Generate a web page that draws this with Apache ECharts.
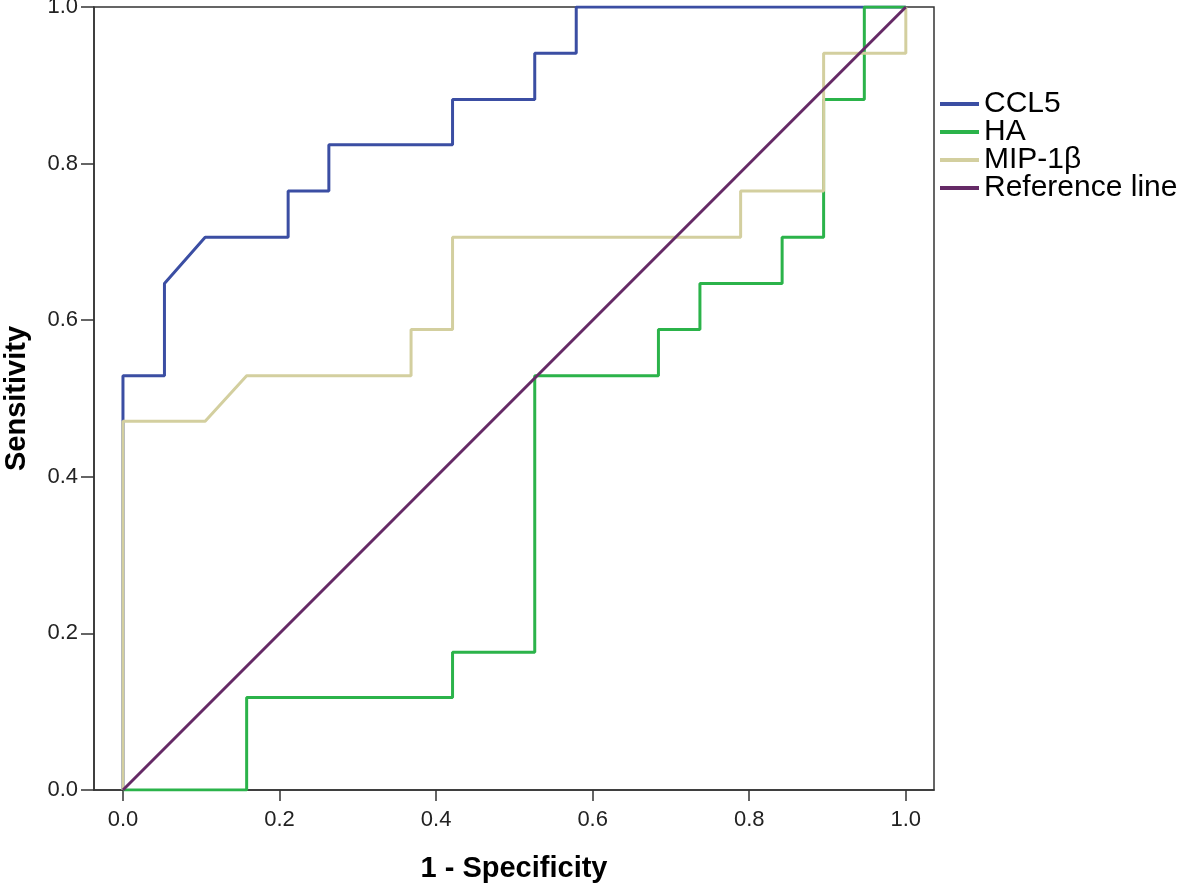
<!DOCTYPE html>
<html>
<head>
<meta charset="utf-8">
<title>ROC curves</title>
<script src="https://cdn.jsdelivr.net/npm/echarts@6/dist/echarts.min.js"></script>
<style>
  html, body { margin: 0; padding: 0; background: #fff; }
  #chart { width: 1181px; height: 887px; }
</style>
</head>
<body>
<div id="chart"></div>
<script>
// ROC points [1 - specificity, sensitivity]
var ccl5 = [
  [0, 0], [0, 0.529], [0.053, 0.529], [0.053, 0.647], [0.105, 0.706],
  [0.211, 0.706], [0.211, 0.765], [0.263, 0.765], [0.263, 0.824],
  [0.421, 0.824], [0.421, 0.882], [0.526, 0.882], [0.526, 0.941],
  [0.579, 0.941], [0.579, 1], [1, 1]
];
var ha = [
  [0, 0], [0.158, 0], [0.158, 0.118], [0.421, 0.118], [0.421, 0.176],
  [0.526, 0.176], [0.526, 0.529], [0.684, 0.529], [0.684, 0.588],
  [0.737, 0.588], [0.737, 0.647], [0.842, 0.647], [0.842, 0.706],
  [0.895, 0.706], [0.895, 0.882], [0.947, 0.882], [0.947, 1], [1, 1]
];
var mip = [
  [0, 0], [0, 0.471], [0.105, 0.471], [0.158, 0.529], [0.368, 0.529],
  [0.368, 0.588], [0.421, 0.588], [0.421, 0.706], [0.789, 0.706],
  [0.789, 0.765], [0.895, 0.765], [0.895, 0.941], [1, 0.941], [1, 1]
];
var refLine = [[0, 0], [1, 1]];
var tickValues = [0, 0.2, 0.4, 0.6, 0.8, 1.0];

var myChart = echarts.init(document.getElementById('chart'));

function lineSeries(name, data, color) {
  return {
    name: name,
    type: 'line',
    data: data,
    showSymbol: false,
    symbol: 'none',
    animation: false,
    lineStyle: { color: color, width: 3 },
    itemStyle: { color: color }
  };
}

var option = {
  backgroundColor: '#fff',
  animation: false,
  textStyle: { fontFamily: 'Liberation Sans, Arial, sans-serif' },
  grid: {
    left: 94, right: 247, top: 7, bottom: 97,
    containLabel: false,
    outerBoundsMode: 'none',
    show: true, borderColor: '#333', borderWidth: 1.5
  },
  legend: {
    orient: 'vertical',
    left: 940,
    top: 89,
    padding: 0,
    itemWidth: 39,
    itemHeight: 4,
    itemGap: -2,
    icon: 'rect',
    textStyle: { fontSize: 30, color: '#000', lineHeight: 28 },
    data: ['CCL5', 'HA', 'MIP-1β', 'Reference line']
  },
  xAxis: {
    type: 'value',
    min: -0.037,
    max: 1.036,
    name: '1 - Specificity',
    nameLocation: 'middle',
    nameGap: 64,
    nameTextStyle: { fontSize: 29, fontWeight: 'bold', color: '#000' },
    splitLine: { show: false },
    axisLine: { show: true, onZero: false, lineStyle: { color: '#333', width: 1.5 } },
    axisTick: { show: true, length: 11, customValues: tickValues, lineStyle: { color: '#333', width: 1.5 } },
    axisLabel: {
      customValues: tickValues, fontSize: 22, color: '#222', margin: 19,
      formatter: function (v) { return v.toFixed(1); }
    }
  },
  yAxis: {
    type: 'value',
    min: 0,
    max: 1,
    interval: 0.2,
    name: 'Sensitivity',
    nameLocation: 'middle',
    nameGap: 63,
    nameTextStyle: { fontSize: 29, fontWeight: 'bold', color: '#000' },
    splitLine: { show: false },
    axisLine: { show: true, onZero: false, lineStyle: { color: '#333', width: 1.5 } },
    axisTick: { show: true, length: 13, lineStyle: { color: '#333', width: 1.5 } },
    axisLabel: {
      fontSize: 22, color: '#222', margin: 16,
      formatter: function (v) { return v.toFixed(1); }
    }
  },
  series: [
    lineSeries('CCL5', ccl5, '#3b4ea3'),
    lineSeries('HA', ha, '#2bb34a'),
    lineSeries('MIP-1β', mip, '#d3cf9f'),
    lineSeries('Reference line', refLine, '#652a66')
  ]
};

myChart.setOption(option);
</script>
</body>
</html>
